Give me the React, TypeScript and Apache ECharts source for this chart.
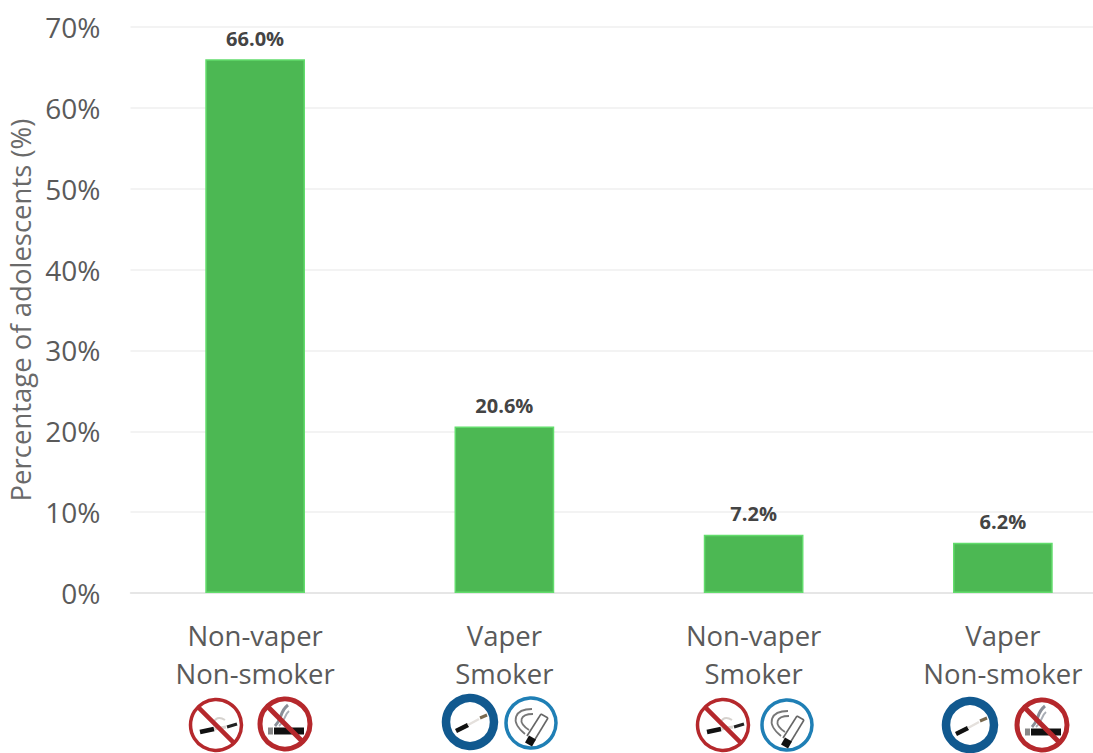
import React, { useEffect, useRef } from "react";
import * as echarts from "echarts";

const categories = ["Non-vaper\nNon-smoker", "Vaper\nSmoker", "Non-vaper\nSmoker", "Vaper\nNon-smoker"];
const percentages = [66.0, 20.6, 7.2, 6.2];
const FONT = '"Open Sans", sans-serif';
const RED = "#b5282c";
const BLUE = "#11598f";
const LIGHTBLUE = "#1f7fb5";

const line = (x1: number, y1: number, x2: number, y2: number, stroke: string, w: number, z = 5) => ({
  type: "line", z, shape: { x1, y1, x2, y2 }, style: { stroke, lineWidth: w, lineCap: "butt" },
});
const ring = (x: number, y: number, r: number, stroke: string, w: number) => ({
  type: "circle", z: 4, shape: { cx: x, cy: y, r }, style: { fill: "#fff", stroke, lineWidth: w },
});
const curve = (x1: number, y1: number, cpx1: number, cpy1: number, cpx2: number, cpy2: number, x2: number, y2: number, stroke: string, w: number) => ({
  type: "bezierCurve", z: 5, shape: { x1, y1, cpx1, cpy1, cpx2, cpy2, x2, y2 }, style: { fill: "none", stroke, lineWidth: w },
});
const slash = (x: number, y: number, r: number, w: number) =>
  line(x - r * 0.68, y - r * 0.68, x + r * 0.68, y + r * 0.68, RED, w, 7);

const noVape = (x: number, y: number) => [
  ring(x, y, 25.5, RED, 3.5),
  line(x - 16, y + 7, x - 2, y + 4, "#111", 4.5),
  line(x - 2, y + 4, x + 10, y + 2, "#d8d4d0", 3),
  line(x + 11, y + 2, x + 21, y - 1, "#222", 3),
  curve(x - 3, y - 1, x - 1, y - 7, x + 3, y - 9, x + 9, y - 5, "#d6d2ce", 2),
  slash(x, y, 26, 4.5),
];
const noSmoke = (x: number, y: number) => [
  ring(x, y, 25, RED, 5),
  line(x - 17, y + 7, x - 12, y + 7, "#888", 7),
  line(x - 11, y + 7, x + 19, y + 7, "#111", 7),
  curve(x - 10, y + 2, x - 2, y - 6, x - 6, y - 12, x + 3, y - 19, "#8a8f98", 3),
  curve(x - 6, y + 2, x + 1, y - 4, x - 1, y - 9, x + 4, y - 13, "#a9adb5", 2),
  slash(x, y, 26, 5),
];
const yesVape = (x: number, y: number) => [
  ring(x, y, 24, BLUE, 8.5),
  line(x - 14, y + 9, x - 2, y + 3, "#111", 4.5),
  line(x - 2, y + 3, x + 9, y - 3, "#e4e0dc", 2.5),
  line(x + 10, y - 4, x + 17, y - 7, "#7a6a50", 3),
];
const yesSmoke = (x: number, y: number) => [
  ring(x, y, 25, LIGHTBLUE, 3.5),
  line(x - 4, y + 13, x + 10, y - 9, "#666", 1.6),
  line(x + 3, y + 18, x + 17, y - 5, "#666", 1.6),
  line(x + 10, y - 9, x + 17, y - 5, "#666", 1.6),
  line(x - 4, y + 16, x + 3, y + 20, "#111", 8),
  curve(x - 6, y + 11, x - 22, y - 2, x - 16, y - 14, x + 1, y - 14, "#777", 1.8),
  curve(x - 2, y + 7, x - 14, y - 1, x - 11, y - 9, x + 2, y - 9, "#777", 1.8),
];

export default function App() {
  const ref = useRef<HTMLDivElement>(null);
  useEffect(() => {
    const chart = echarts.init(ref.current!, undefined, { renderer: "svg" });
    chart.setOption({
      animation: false,
      backgroundColor: "#fff",
      grid: { left: 130.5, right: 12.5, top: 27, bottom: 160, outerBoundsMode: "none" },
      xAxis: {
        type: "category",
        data: categories,
        axisTick: { show: false },
        axisLine: { lineStyle: { color: "#e2e2e2", width: 1.5 } },
        axisLabel: { color: "#5a5a5a", fontFamily: FONT, fontSize: 27.5, lineHeight: 38, margin: 23 },
      },
      yAxis: {
        type: "value",
        min: 0,
        max: 70,
        interval: 10,
        axisLine: { show: false },
        axisTick: { show: false },
        splitLine: { lineStyle: { color: "#efefef", width: 1.5 } },
        axisLabel: { color: "#5a5a5a", fontFamily: FONT, fontSize: 28, margin: 30, formatter: "{value}%" },
        name: "Percentage of adolescents (%)",
        nameLocation: "middle",
        nameRotate: 90,
        nameGap: 93,
        nameTextStyle: { color: "#6a6a6a", fontFamily: FONT, fontSize: 27.5 },
      },
      series: [{
        type: "bar",
        data: percentages,
        barWidth: "40%",
        itemStyle: { color: "#4cb853", borderColor: "#62dc6c", borderWidth: 1.5 },
        label: {
          show: true,
          position: "top",
          distance: 11,
          color: "#444",
          fontFamily: FONT,
          fontWeight: "bold",
          fontSize: 20,
          formatter: (p: any) => `${p.value.toFixed(1)}%`,
        },
      }],
      graphic: [
        ...noVape(216, 725), ...noSmoke(285, 724),
        ...yesVape(470, 722), ...yesSmoke(531, 723),
        ...noVape(723, 725), ...yesSmoke(787, 725),
        ...yesVape(970, 725), ...noSmoke(1042, 725),
      ],
    });
    return () => chart.dispose();
  }, []);
  return (
    <div style={{ position: "fixed", left: 0, top: 0, width: 1093, height: 753, overflow: "hidden", background: "#fff" }}>
      <div ref={ref} style={{ width: 1140, height: 753 }} />
    </div>
  );
}
